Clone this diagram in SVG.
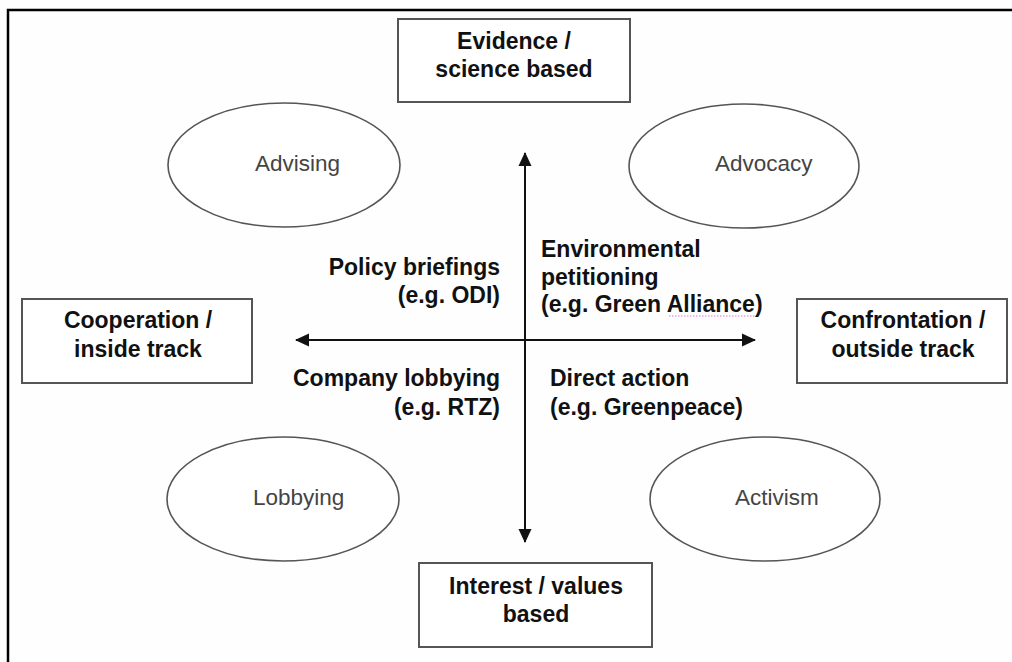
<svg xmlns="http://www.w3.org/2000/svg" width="1012" height="662" viewBox="0 0 1012 662">
<style>
.box{fill:#fff;stroke:#555;stroke-width:2}
.ell{fill:#fff;stroke:#555;stroke-width:1.6}
.bt{font-family:"Liberation Sans",Arial,sans-serif;font-weight:bold;font-size:23px;fill:#111;text-anchor:middle}
.lb{font-family:"Liberation Sans",Arial,sans-serif;font-weight:bold;font-size:23px;fill:#111}
.et{font-family:"Liberation Sans",Arial,sans-serif;font-size:22.5px;fill:#444}
.ax{stroke:#111;stroke-width:2;fill:none}
</style>
<defs>
<marker id="ah" markerWidth="14" markerHeight="14" refX="13" refY="7" orient="auto" markerUnits="userSpaceOnUse">
<path d="M0,0.5 L14,7 L0,13.5 Z" fill="#111"/>
</marker>
</defs>
<rect width="1012" height="662" fill="#fefefe"/>
<path d="M8,662 V10 H1012" fill="none" stroke="#000" stroke-width="2.5"/>

<g id="connectors">
<line class="ax" x1="525" y1="526" x2="525" y2="153" marker-end="url(#ah)"/>
<line class="ax" x1="525" y1="340" x2="525" y2="542" marker-end="url(#ah)"/>
<line class="ax" x1="525" y1="340" x2="296" y2="340" marker-end="url(#ah)"/>
<line class="ax" x1="525" y1="340" x2="755" y2="340" marker-end="url(#ah)"/>
</g>

<g id="evidence">
<rect class="box" x="398" y="19" width="232" height="83"/>
<text class="bt" x="514" y="49">Evidence /</text>
<text class="bt" x="514" y="77">science based</text>
</g>

<g id="cooperation">
<rect class="box" x="22" y="299" width="230" height="84"/>
<text class="bt" x="138" y="328">Cooperation /</text>
<text class="bt" x="138" y="357">inside track</text>
</g>

<g id="confrontation">
<rect class="box" x="797" y="299" width="210" height="84"/>
<text class="bt" x="903" y="328">Confrontation /</text>
<text class="bt" x="903" y="357">outside track</text>
</g>

<g id="interest">
<rect class="box" x="419" y="563" width="233" height="84"/>
<text class="bt" x="536" y="594">Interest / values</text>
<text class="bt" x="536" y="622">based</text>
</g>

<g id="advising">
<ellipse class="ell" cx="284" cy="165" rx="116" ry="62"/>
<text class="et" x="255" y="171">Advising</text>
</g>

<g id="advocacy">
<ellipse class="ell" cx="744" cy="166" rx="115" ry="62"/>
<text class="et" x="715" y="171">Advocacy</text>
</g>

<g id="lobbying">
<ellipse class="ell" cx="283" cy="499" rx="116" ry="62"/>
<text class="et" x="253" y="505">Lobbying</text>
</g>

<g id="activism">
<ellipse class="ell" cx="765" cy="499" rx="115" ry="62"/>
<text class="et" x="735" y="505">Activism</text>
</g>

<g id="policy">
<text class="lb" x="500" y="275" text-anchor="end">Policy briefings</text>
<text class="lb" x="500" y="303" text-anchor="end">(e.g. ODI)</text>
</g>

<g id="environmental">
<text class="lb" x="541" y="257">Environmental</text>
<text class="lb" x="541" y="285">petitioning</text>
<text class="lb" x="541" y="312">(e.g. Green Alliance)</text>
<line x1="669" y1="316" x2="756" y2="316" stroke="#e070e0" stroke-width="1" stroke-dasharray="1.5,1.5"/>
</g>

<g id="company">
<text class="lb" x="500" y="386" text-anchor="end">Company lobbying</text>
<text class="lb" x="500" y="415" text-anchor="end">(e.g. RTZ)</text>
</g>

<g id="direct">
<text class="lb" x="550" y="386">Direct action</text>
<text class="lb" x="550" y="415">(e.g. Greenpeace)</text>
</g>
</svg>
